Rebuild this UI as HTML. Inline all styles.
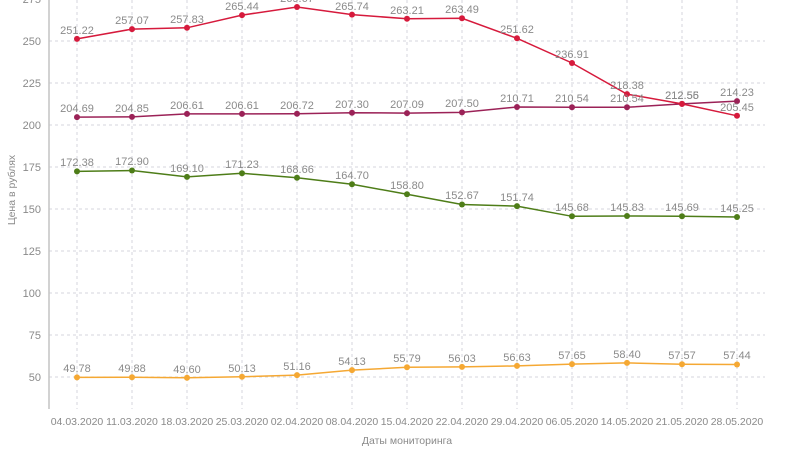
<!DOCTYPE html>
<html><head><meta charset="utf-8"><style>
html,body{margin:0;padding:0;background:#fff;}
svg{display:block;font-family:"Liberation Sans",sans-serif;}
.g line{stroke:#d4d4dc;stroke-width:1;stroke-dasharray:3,3;}
.lb text{font-size:11px;fill:#8a8a8a;text-anchor:middle;}
.yt text{font-size:11px;fill:#8a8a8a;text-anchor:end;}
.xt text{font-size:10.5px;fill:#8a8a8a;text-anchor:middle;}
</style></head><body>
<svg width="800" height="450" viewBox="0 0 800 450">
<g class="g">
<line x1="49" y1="41" x2="765" y2="41"/><line x1="49" y1="83" x2="765" y2="83"/>
<line x1="49" y1="125" x2="765" y2="125"/><line x1="49" y1="167" x2="765" y2="167"/>
<line x1="49" y1="209" x2="765" y2="209"/><line x1="49" y1="251" x2="765" y2="251"/>
<line x1="49" y1="293" x2="765" y2="293"/><line x1="49" y1="335" x2="765" y2="335"/>
<line x1="49" y1="377" x2="765" y2="377"/>
<line x1="77" y1="0" x2="77" y2="409"/><line x1="132" y1="0" x2="132" y2="409"/>
<line x1="187" y1="0" x2="187" y2="409"/><line x1="242" y1="0" x2="242" y2="409"/>
<line x1="297" y1="0" x2="297" y2="409"/><line x1="352" y1="0" x2="352" y2="409"/>
<line x1="407" y1="0" x2="407" y2="409"/><line x1="462" y1="0" x2="462" y2="409"/>
<line x1="517" y1="0" x2="517" y2="409"/><line x1="572" y1="0" x2="572" y2="409"/>
<line x1="627" y1="0" x2="627" y2="409"/><line x1="682" y1="0" x2="682" y2="409"/>
<line x1="737" y1="0" x2="737" y2="409"/>
</g>
<line x1="49" y1="0" x2="49" y2="409" stroke="#c4c4c4" stroke-width="1.5"/>
<g class="yt">
<text x="41" y="3">275</text><text x="41" y="45">250</text><text x="41" y="87">225</text>
<text x="41" y="129">200</text><text x="41" y="171">175</text><text x="41" y="213">150</text>
<text x="41" y="255">125</text><text x="41" y="297">100</text><text x="41" y="339">75</text>
<text x="41" y="381">50</text>
</g>
<g class="xt">
<text x="77" y="425">04.03.2020</text><text x="132" y="425">11.03.2020</text>
<text x="187" y="425">18.03.2020</text><text x="242" y="425">25.03.2020</text>
<text x="297" y="425">02.04.2020</text><text x="352" y="425">08.04.2020</text>
<text x="407" y="425">15.04.2020</text><text x="462" y="425">22.04.2020</text>
<text x="517" y="425">29.04.2020</text><text x="572" y="425">06.05.2020</text>
<text x="627" y="425">14.05.2020</text><text x="682" y="425">21.05.2020</text>
<text x="737" y="425">28.05.2020</text>
</g>
<text x="407" y="444" font-size="10.5" fill="#8a8a8a" text-anchor="middle">Даты мониторинга</text>
<text transform="translate(15,190) rotate(-90)" font-size="10.5" fill="#8a8a8a" text-anchor="middle">Цена в рублях</text>

<polyline fill="none" stroke="#9b2257" stroke-width="1.5" points="77,117.1 132,116.9 187,113.9 242,113.9 297,113.7 352,112.7 407,113.1 462,112.4 517,107 572,107.3 627,107.3 682,103.9 737,101.1"/>
<g fill="#9b2257">
<circle cx="77" cy="117.1" r="3"/><circle cx="132" cy="116.9" r="3"/><circle cx="187" cy="113.9" r="3"/><circle cx="242" cy="113.9" r="3"/><circle cx="297" cy="113.7" r="3"/><circle cx="352" cy="112.7" r="3"/><circle cx="407" cy="113.1" r="3"/><circle cx="462" cy="112.4" r="3"/><circle cx="517" cy="107" r="3"/><circle cx="572" cy="107.3" r="3"/><circle cx="627" cy="107.3" r="3"/><circle cx="682" cy="103.9" r="3"/><circle cx="737" cy="101.1" r="3"/>
</g>
<polyline fill="none" stroke="#d61a3c" stroke-width="1.5" points="77,38.9 132,29.1 187,27.8 242,15.1 297,7 352,14.6 407,18.8 462,18.3 517,38.3 572,63 627,94.1 682,103.9 737,115.8"/>
<g fill="#d61a3c">
<circle cx="77" cy="38.9" r="3"/><circle cx="132" cy="29.1" r="3"/><circle cx="187" cy="27.8" r="3"/><circle cx="242" cy="15.1" r="3"/><circle cx="297" cy="7" r="3"/><circle cx="352" cy="14.6" r="3"/><circle cx="407" cy="18.8" r="3"/><circle cx="462" cy="18.3" r="3"/><circle cx="517" cy="38.3" r="3"/><circle cx="572" cy="63" r="3"/><circle cx="627" cy="94.1" r="3"/><circle cx="682" cy="103.9" r="3"/><circle cx="737" cy="115.8" r="3"/>
</g>
<polyline fill="none" stroke="#4e7d18" stroke-width="1.5" points="77,171.4 132,170.5 187,176.9 242,173.3 297,177.7 352,184.3 407,194.2 462,204.5 517,206.1 572,216.3 627,216 682,216.3 737,217"/>
<g fill="#4e7d18">
<circle cx="77" cy="171.4" r="3"/><circle cx="132" cy="170.5" r="3"/><circle cx="187" cy="176.9" r="3"/><circle cx="242" cy="173.3" r="3"/><circle cx="297" cy="177.7" r="3"/><circle cx="352" cy="184.3" r="3"/><circle cx="407" cy="194.2" r="3"/><circle cx="462" cy="204.5" r="3"/><circle cx="517" cy="206.1" r="3"/><circle cx="572" cy="216.3" r="3"/><circle cx="627" cy="216" r="3"/><circle cx="682" cy="216.3" r="3"/><circle cx="737" cy="217" r="3"/>
</g>
<polyline fill="none" stroke="#f5a833" stroke-width="1.5" points="77,377.4 132,377.2 187,377.7 242,376.8 297,375.1 352,370.1 407,367.3 462,366.9 517,365.9 572,364.1 627,362.9 682,364.3 737,364.5"/>
<g fill="#f5a833">
<circle cx="77" cy="377.4" r="3"/><circle cx="132" cy="377.2" r="3"/><circle cx="187" cy="377.7" r="3"/><circle cx="242" cy="376.8" r="3"/><circle cx="297" cy="375.1" r="3"/><circle cx="352" cy="370.1" r="3"/><circle cx="407" cy="367.3" r="3"/><circle cx="462" cy="366.9" r="3"/><circle cx="517" cy="365.9" r="3"/><circle cx="572" cy="364.1" r="3"/><circle cx="627" cy="362.9" r="3"/><circle cx="682" cy="364.3" r="3"/><circle cx="737" cy="364.5" r="3"/>
</g>

<g class="lb">
<text x="77" y="34">251.22</text><text x="132" y="24">257.07</text><text x="187" y="23">257.83</text><text x="242" y="10">265.44</text><text x="297" y="2">269.67</text><text x="352" y="10">265.74</text><text x="407" y="14">263.21</text><text x="462" y="13">263.49</text><text x="517" y="33">251.62</text><text x="572" y="58">236.91</text><text x="627" y="89">218.38</text><text x="682" y="99">212.56</text><text x="737" y="111">205.45</text>
<text x="77" y="112">204.69</text><text x="132" y="112">204.85</text><text x="187" y="109">206.61</text><text x="242" y="109">206.61</text><text x="297" y="109">206.72</text><text x="352" y="108">207.30</text><text x="407" y="108">207.09</text><text x="462" y="107">207.50</text><text x="517" y="102">210.71</text><text x="572" y="102">210.54</text><text x="627" y="102">210.54</text><text x="682" y="99">212.55</text><text x="737" y="96">214.23</text>
<text x="77" y="166">172.38</text><text x="132" y="165">172.90</text><text x="187" y="172">169.10</text><text x="242" y="168">171.23</text><text x="297" y="173">168.66</text><text x="352" y="179">164.70</text><text x="407" y="189">158.80</text><text x="462" y="199">152.67</text><text x="517" y="201">151.74</text><text x="572" y="211">145.68</text><text x="627" y="211">145.83</text><text x="682" y="211">145.69</text><text x="737" y="212">145.25</text>
<text x="77" y="372">49.78</text><text x="132" y="372">49.88</text><text x="187" y="373">49.60</text><text x="242" y="372">50.13</text><text x="297" y="370">51.16</text><text x="352" y="365">54.13</text><text x="407" y="362">55.79</text><text x="462" y="362">56.03</text><text x="517" y="361">56.63</text><text x="572" y="359">57.65</text><text x="627" y="358">58.40</text><text x="682" y="359">57.57</text><text x="737" y="359">57.44</text>
</g>
</svg>
</body></html>
